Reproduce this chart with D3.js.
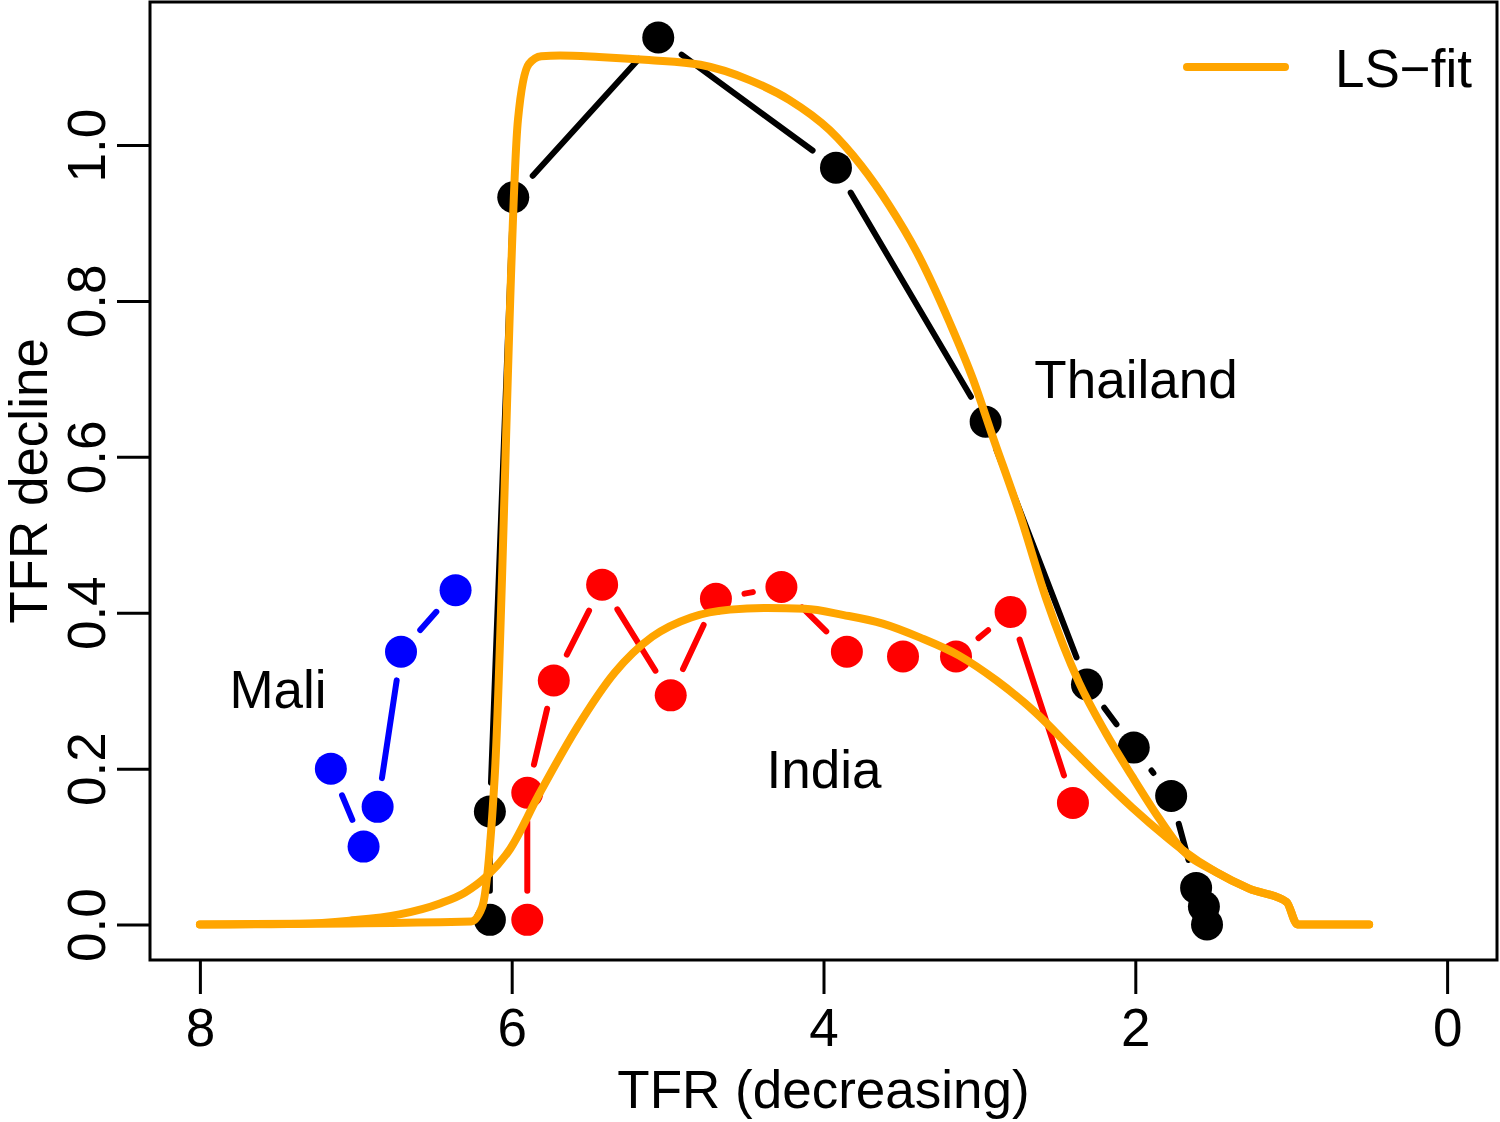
<!DOCTYPE html>
<meta charset="utf-8">
<style>
  body { margin: 0; background: #fff; }
  text { font-family: "Liberation Sans", Arial, Helvetica, sans-serif; }
</style>
<svg id="chart"></svg>
<script src="https://d3js.org/d3.v7.min.js"></script>
<script>

// observed TFR decline, per country (in time order)
var thaiTFR     = [6.14, 6.14, 5.99, 5.06, 3.92, 2.96, 2.31, 2.01, 1.77, 1.61, 1.56, 1.54];
var thaiDecline = [0.006, 0.145, 0.933, 1.138, 0.971, 0.645, 0.308, 0.227, 0.165, 0.047, 0.023, 0.000];

var indiaTFR     = [5.90, 5.90, 5.73, 5.42, 4.98, 4.69, 4.27, 3.85, 3.49, 3.15, 2.80, 2.40];
var indiaDecline = [0.006, 0.169, 0.313, 0.436, 0.294, 0.418, 0.433, 0.350, 0.344, 0.344, 0.401, 0.156];

var maliTFR     = [7.16, 6.95, 6.86, 6.71, 6.36];
var maliDecline = [0.200, 0.100, 0.151, 0.350, 0.429];

// LS-fit curves
var fitThaiTFR = [8.00, 6.26, 6.19, 6.11, 5.96, 5.89, 5.81, 5.69, 5.44, 5.12, 4.79, 4.47, 4.22, 3.96,
                  3.76, 3.58, 3.40, 3.19, 3.04, 2.92, 2.74, 2.57, 2.36, 2.19, 2.02, 1.85, 1.70,
                  1.48, 1.27, 1.03, 0.96, 0.50];
var fitThai    = [0, 0.004, 0.022, 0.186, 1.032, 1.104, 1.114, 1.115, 1.113, 1.109, 1.103, 1.083, 1.058, 1.019,
                  0.974, 0.923, 0.862, 0.772, 0.699, 0.629, 0.526, 0.417, 0.310, 0.246, 0.190, 0.137, 0.096,
                  0.067, 0.046, 0.029, 0, 0];

var fitIndiaTFR = [8.00, 7.36, 7.04, 6.72, 6.46, 6.30, 6.16, 6.01, 5.83, 5.58, 5.34, 5.10, 4.85, 4.60,
                   4.36, 4.12, 3.87, 3.62, 3.38, 3.13, 2.89, 2.64, 2.40, 2.23, 2.02, 1.80, 1.70,
                   1.48, 1.27, 1.03, 0.96, 0.50];
var fitIndia    = [0, 0.001, 0.005, 0.013, 0.027, 0.041, 0.062, 0.097, 0.165, 0.253, 0.323, 0.369, 0.394, 0.404,
                   0.406, 0.405, 0.397, 0.386, 0.368, 0.345, 0.313, 0.272, 0.224, 0.190, 0.150, 0.112, 0.096,
                   0.067, 0.046, 0.029, 0, 0];

var xTicks = [8, 6, 4, 2, 0];
var yTicks = [0, 0.2, 0.4, 0.6, 0.8, 1.0];

var width = 1500, height = 1122,
	plotL = 150, plotR = 1497, plotT = 2, plotB = 960;

var svg = d3.select("#chart").attr("width", width).attr("height", height);

var x = d3.scaleLinear().domain([8.32, -0.32]).range([plotL, plotR]);
var y = d3.scaleLinear().domain([-0.0455, 1.1835]).range([plotB, plotT]);

//axes
var xAxis = svg.append("g").attr("transform", "translate(0," + plotB + ")")
	.call(d3.axisBottom(x).tickValues(xTicks).tickFormat(d3.format("d")).tickSize(34).tickSizeOuter(0).tickPadding(14));
var yAxis = svg.append("g").attr("transform", "translate(" + plotL + ",0)")
	.call(d3.axisLeft(y).tickValues(yTicks).tickFormat(d3.format(".1f")).tickSize(33).tickSizeOuter(0));

[xAxis, yAxis].forEach(function(a) {
	a.select(".domain").remove();
	a.selectAll(".tick line").attr("stroke", "#000").attr("stroke-width", 3);
	a.selectAll(".tick text").attr("fill", "#000").style("font-size", "53px");
});
yAxis.selectAll(".tick text")
	.attr("x", null).attr("dy", null)
	.attr("text-anchor", "middle")
	.attr("transform", "translate(-45,0) rotate(-90)");

//box
svg.append("rect").attr("x", plotL).attr("y", plotT)
	.attr("width", plotR - plotL).attr("height", plotB - plotT)
	.attr("fill", "none").attr("stroke", "#000").attr("stroke-width", 3);

//axis titles
svg.append("text").attr("x", (plotL + plotR) / 2).attr("y", 1108)
	.attr("text-anchor", "middle").style("font-size", "53px").text("TFR (decreasing)");
svg.append("text").attr("transform", "translate(47," + (plotT + plotB) / 2 + ") rotate(-90)")
	.attr("text-anchor", "middle").style("font-size", "53px").text("TFR decline");

//points joined by R-style "b" lines (gaps round each point)
var gap = 29, r = 16;
function drawSeries(xs, ys, colour) {
	var pts = xs.map(function(v, i) { return [x(v), y(ys[i])]; });
	var segs = [];
	for (var i = 1; i < pts.length; i++) {
		var dx = pts[i][0] - pts[i-1][0], dy = pts[i][1] - pts[i-1][1],
			d = Math.sqrt(dx*dx + dy*dy);
		if (d > 2 * gap) segs.push([
			pts[i-1][0] + dx/d*gap, pts[i-1][1] + dy/d*gap,
			pts[i][0] - dx/d*gap, pts[i][1] - dy/d*gap]);
	}
	var g = svg.append("g");
	g.selectAll("line").data(segs).enter().append("line")
		.attr("x1", function(s) { return s[0]; }).attr("y1", function(s) { return s[1]; })
		.attr("x2", function(s) { return s[2]; }).attr("y2", function(s) { return s[3]; })
		.attr("stroke", colour).attr("stroke-width", 6).attr("stroke-linecap", "round");
	g.selectAll("circle").data(pts).enter().append("circle")
		.attr("cx", function(p) { return p[0]; }).attr("cy", function(p) { return p[1]; })
		.attr("r", r).attr("fill", colour);
}
drawSeries(maliTFR, maliDecline, "#0000FF");
drawSeries(thaiTFR, thaiDecline, "#000000");
drawSeries(indiaTFR, indiaDecline, "#FF0000");

//fitted curves
var line = d3.line().x(function(d) { return x(d[0]); }).y(function(d) { return y(d[1]); })
	.curve(d3.curveMonotoneX);
[[fitThaiTFR, fitThai], [fitIndiaTFR, fitIndia]].forEach(function(f) {
	svg.append("path").datum(f[0].map(function(v, i) { return [v, f[1][i]]; }))
		.attr("d", line).attr("fill", "none").attr("stroke", "#FFA500")
		.attr("stroke-width", 8).attr("stroke-linejoin", "round").attr("stroke-linecap", "round");
});

//country labels
var labels = [["Mali", 278, 708], ["India", 824, 788], ["Thailand", 1136, 398]];
svg.append("g").selectAll("text").data(labels).enter().append("text")
	.attr("x", function(d) { return d[1]; }).attr("y", function(d) { return d[2]; })
	.attr("text-anchor", "middle").style("font-size", "53px")
	.text(function(d) { return d[0]; });

//legend
svg.append("line").attr("x1", 1187).attr("x2", 1285).attr("y1", 67).attr("y2", 67)
	.attr("stroke", "#FFA500").attr("stroke-width", 8).attr("stroke-linecap", "round");
svg.append("text").attr("x", 1335).attr("y", 87).style("font-size", "53px").text("LS\u2212fit");

</script>
